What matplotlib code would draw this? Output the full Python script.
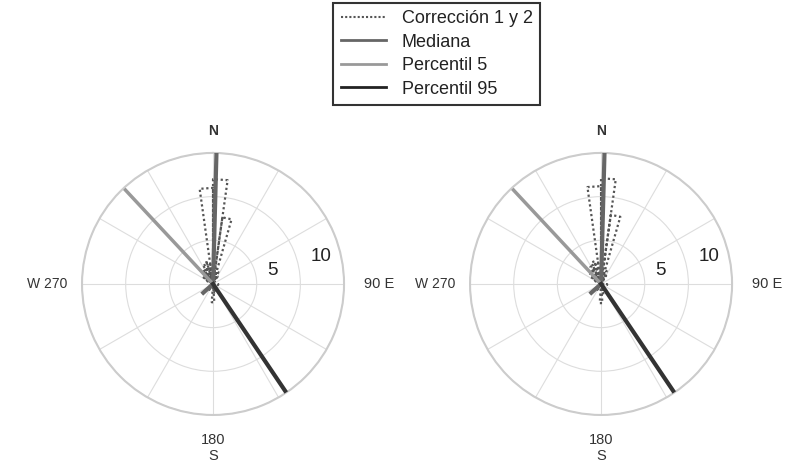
import numpy as np
import matplotlib
matplotlib.use("Agg")
import matplotlib.pyplot as plt
from matplotlib.lines import Line2D

plt.rcParams['font.family'] = ['Liberation Sans', 'DejaVu Sans']

# rose histogram bins (degrees, compass) and counts for each panel
bin_edges = [-64, -56, -48, -40, -32, -24, -16, -8, 0, 8, 16, 24, 32, 40,
             92, 100, 160, 168, 176, 184, 212, 220, 228]
counts_left = [1.0, 1.3, 1.6, 1.8, 2.2, 2.6, 2.4, 11.0, 12.0, 7.7, 1.5, 1.0, 0.0,
               0.0, 0.6, 0.0, 1.0, 0.0, 2.1, 0.0, 0.8, 0.6]
counts_right = [1.0, 1.4, 1.7, 1.9, 2.3, 2.7, 2.5, 11.2, 12.1, 8.0, 1.6, 1.1, 0.0,
                0.0, 0.7, 0.0, 1.1, 0.0, 2.2, 0.0, 0.8, 0.6]

# vectors: (direction deg, length)
mediana = [(1.5, 15.0), (228, 1.5)]
percentil5 = (317, 14.7)
percentil95 = (146, 14.9)

rmax = 15
ring_vals = [5, 10, 15]


def draw_rose(ax, counts):
    th, r = [], []
    for i, c in enumerate(counts):
        if c <= 0:
            continue
        e1, e2 = np.deg2rad(bin_edges[i]), np.deg2rad(bin_edges[i + 1])
        th += [0, e1, e2, 0, np.nan]
        r += [0, c, c, 0, np.nan]
    ax.plot(th, r, color='#555555', linestyle=(0, (1, 1.2)), lw=1.6, zorder=3)


def panel(ax, counts):
    ax.set_theta_zero_location('N')
    ax.set_theta_direction(-1)
    ax.set_ylim(0, rmax)
    ax.set_thetagrids(np.arange(0, 360, 30), labels=[''] * 12)
    ax.set_rgrids(ring_vals, labels=['', '', ''])
    ax.grid(color='#dddddd', lw=0.8)
    ax.spines['polar'].set_color('#cccccc')
    ax.spines['polar'].set_linewidth(1.5)

    draw_rose(ax, counts)
    ax.plot([np.deg2rad(mediana[1][0]), 0, np.deg2rad(mediana[0][0])],
            [mediana[1][1], 0, mediana[0][1]], color='#666666', lw=3, zorder=4)
    ax.plot([0, np.deg2rad(percentil5[0])], [0, percentil5[1]],
            color='#999999', lw=2.5, zorder=4)
    ax.plot([0, np.deg2rad(percentil95[0])], [0, percentil95[1]],
            color='#333333', lw=3, zorder=4)

    tc = '#333333'
    ax.text(0, 17.5, 'N', ha='center', va='center', fontsize=10,
            fontweight='bold', color=tc, clip_on=False)
    ax.text(np.pi / 2, 19, '90 E', ha='center', va='center', fontsize=10.5,
            color=tc, clip_on=False)
    ax.text(3 * np.pi / 2, 19, 'W 270', ha='center', va='center', fontsize=10,
            color=tc, clip_on=False)
    ax.text(np.pi, 18.8, '180\nS', ha='center', va='center', fontsize=10.5,
            color=tc, linespacing=1.15, clip_on=False)
    ax.text(np.deg2rad(77.5), 7.0, '5', ha='center', va='center', fontsize=13.5,
            color='#222222')
    ax.text(np.deg2rad(76), 12.8, '10', ha='center', va='center', fontsize=13.5,
            color='#222222')


fig = plt.figure(figsize=(7.94, 4.63), dpi=100)
ax1 = fig.add_axes([0.1033, 0.1037, 0.330, 0.566], projection='polar')
ax2 = fig.add_axes([0.5920, 0.1037, 0.330, 0.566], projection='polar')
panel(ax1, counts_left)
panel(ax2, counts_right)

handles = [
    Line2D([], [], color='#555555', linestyle=(0, (1, 1)), lw=1.5),
    Line2D([], [], color='#666666', lw=2),
    Line2D([], [], color='#999999', lw=2),
    Line2D([], [], color='#222222', lw=2),
]
labels = ['Corrección 1 y 2', 'Mediana', 'Percentil 5', 'Percentil 95']
leg = fig.legend(handles, labels, loc='upper center', bbox_to_anchor=(0.550, 0.994),
                 fontsize=13, frameon=True, fancybox=False, edgecolor='black',
                 handlelength=2.5, handletextpad=0.9, labelspacing=0.36,
                 borderpad=0.4, borderaxespad=0)
leg.get_frame().set_linewidth(1.5)
for t in leg.get_texts():
    t.set_color('#222222')

fig.savefig('out.png', dpi=100)
